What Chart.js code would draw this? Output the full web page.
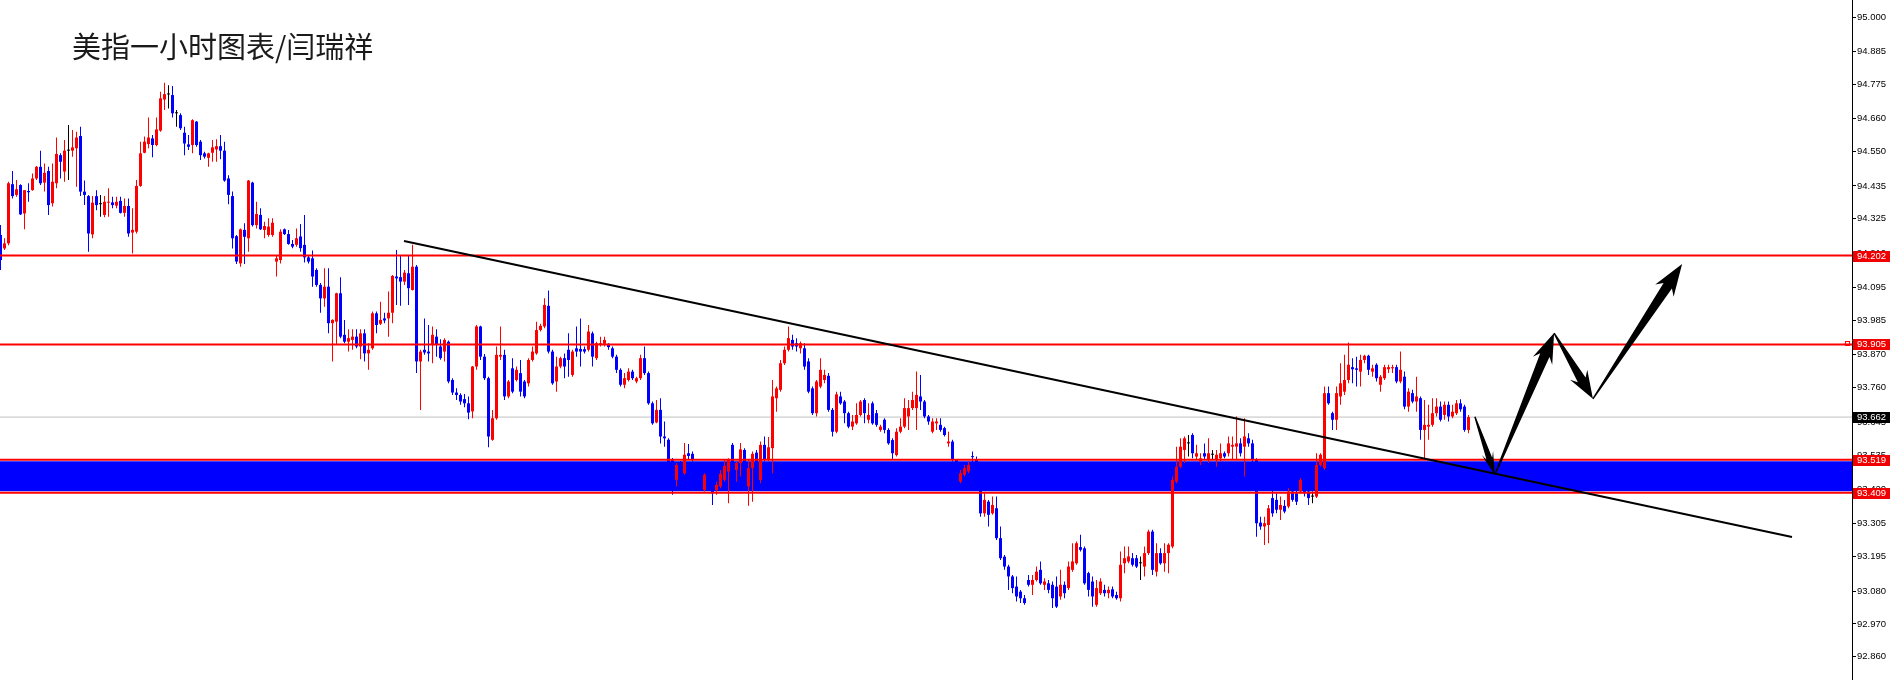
<!DOCTYPE html>
<html>
<head>
<meta charset="utf-8">
<title>美指一小时图表</title>
<script src="https://cdn.jsdelivr.net/npm/chart.js@4.4.1/dist/chart.umd.min.js"></script>
<style>
  html, body { margin: 0; padding: 0; background: #fff; }
  canvas { display: block; }
</style>
</head>
<body>
<canvas id="chart" width="1890" height="680"></canvas>
<script>
// hourly candles, oldest first
const opens = [
  94.271, 94.226, 94.243, 94.441, 94.405, 94.438, 94.343, 94.418, 94.421, 94.460,
  94.499, 94.446, 94.485, 94.377, 94.444, 94.538, 94.483, 94.553, 94.553, 94.561,
  94.602, 94.416, 94.401, 94.273, 94.401, 94.374, 94.338, 94.379, 94.380, 94.369,
  94.385, 94.345, 94.368, 94.279, 94.282, 94.435, 94.546, 94.575, 94.594, 94.572,
  94.620, 94.724, 94.741, 94.739, 94.678, 94.672, 94.613, 94.574, 94.572, 94.650,
  94.583, 94.544, 94.529, 94.546, 94.557, 94.568, 94.553, 94.460, 94.401, 94.267,
  94.176, 94.288, 94.260, 94.446, 94.304, 94.338, 94.288, 94.271, 94.271, 94.182,
  94.187, 94.290, 94.274, 94.241, 94.238, 94.266, 94.238, 94.196, 94.193, 94.154,
  94.104, 94.059, 94.098, 93.976, 93.981, 94.076, 93.937, 93.914, 93.920, 93.931,
  93.898, 93.942, 93.875, 93.892, 94.009, 93.974, 93.992, 93.992, 94.011, 94.132,
  94.130, 94.115, 94.143, 94.087, 94.165, 93.848, 93.887, 93.881, 93.903, 93.931,
  93.898, 93.881, 93.914, 93.786, 93.744, 93.736, 93.722, 93.708, 93.681, 93.831,
  93.965, 93.864, 93.792, 93.586, 93.658, 93.864, 93.870, 93.731, 93.825, 93.786,
  93.809, 93.781, 93.775, 93.853, 93.875, 93.953, 93.965, 94.034, 93.881, 93.781,
  93.831, 93.859, 93.887, 93.803, 93.892, 93.890, 93.889, 93.887, 93.942, 93.859,
  93.903, 93.907, 93.907, 93.892, 93.864, 93.820, 93.770, 93.786, 93.814, 93.781,
  93.792, 93.859, 93.809, 93.708, 93.644, 93.686, 93.597, 93.586, 93.519, 93.452,
  93.510, 93.474, 93.541, 93.539, 93.496, 93.460, 93.418, 93.470, 93.452, 93.418,
  93.430, 93.452, 93.480, 93.569, 93.485, 93.508, 93.552, 93.430, 93.491, 93.543,
  93.452, 93.569, 93.519, 93.558, 93.725, 93.753, 93.842, 93.887, 93.920, 93.909,
  93.892, 93.892, 93.848, 93.758, 93.675, 93.764, 93.786, 93.800, 93.686, 93.613,
  93.731, 93.714, 93.675, 93.630, 93.641, 93.669, 93.719, 93.653, 93.708, 93.675,
  93.619, 93.653, 93.619, 93.585, 93.535, 93.613, 93.630, 93.664, 93.692, 93.692,
  93.731, 93.714, 93.664, 93.613, 93.641, 93.636, 93.625, 93.574, 93.580, 93.519,
  93.446, 93.469, 93.480, 93.530, 93.520, 93.418, 93.340, 93.379, 93.340, 93.357,
  93.257, 93.195, 93.162, 93.129, 93.095, 93.078, 93.056, 93.117, 93.101, 93.117,
  93.151, 93.101, 93.106, 93.101, 93.095, 93.062, 93.101, 93.090, 93.151, 93.173,
  93.227, 93.223, 93.140, 93.112, 93.034, 93.073, 93.084, 93.073, 93.086, 93.067,
  93.056, 93.173, 93.179, 93.190, 93.190, 93.173, 93.162, 93.207, 93.279, 93.145,
  93.207, 93.173, 93.207, 93.229, 93.446, 93.496, 93.552, 93.574, 93.602, 93.530,
  93.513, 93.541, 93.519, 93.536, 93.519, 93.524, 93.541, 93.541, 93.563, 93.563,
  93.574, 93.563, 93.591, 93.574, 93.519, 93.309, 93.296, 93.301, 93.391, 93.385,
  93.352, 93.365, 93.363, 93.413, 93.407, 93.413, 93.418, 93.413, 93.396, 93.396,
  93.502, 93.491, 93.742, 93.675, 93.653, 93.731, 93.747, 93.786, 93.829, 93.825,
  93.814, 93.853, 93.867, 93.814, 93.837, 93.770, 93.792, 93.822, 93.825, 93.829,
  93.781, 93.797, 93.697, 93.742, 93.714, 93.725, 93.619, 93.630, 93.636, 93.675,
  93.697, 93.669, 93.703, 93.664, 93.675, 93.708, 93.697, 93.619
];
const highs = [
  94.304, 94.260, 94.449, 94.485, 94.455, 94.441, 94.421, 94.444, 94.477, 94.502,
  94.553, 94.510, 94.499, 94.510, 94.597, 94.544, 94.589, 94.639, 94.622, 94.616,
  94.633, 94.453, 94.405, 94.401, 94.421, 94.405, 94.401, 94.427, 94.399, 94.399,
  94.399, 94.393, 94.393, 94.360, 94.455, 94.583, 94.600, 94.664, 94.605, 94.664,
  94.750, 94.780, 94.772, 94.769, 94.689, 94.678, 94.633, 94.605, 94.658, 94.652,
  94.589, 94.549, 94.546, 94.589, 94.591, 94.605, 94.583, 94.471, 94.416, 94.271,
  94.293, 94.310, 94.455, 94.449, 94.382, 94.360, 94.315, 94.327, 94.327, 94.204,
  94.290, 94.293, 94.288, 94.254, 94.293, 94.308, 94.338, 94.204, 94.219, 94.160,
  94.110, 94.160, 94.160, 93.989, 94.078, 94.130, 93.987, 93.956, 93.956, 93.956,
  93.956, 93.956, 93.909, 94.015, 94.015, 94.048, 94.011, 94.082, 94.137, 94.221,
  94.201, 94.154, 94.201, 94.238, 94.171, 93.887, 93.992, 93.970, 93.965, 93.956,
  93.922, 93.926, 93.918, 93.792, 93.758, 93.742, 93.739, 93.731, 93.833, 93.970,
  93.967, 93.873, 93.797, 93.686, 93.898, 93.965, 93.887, 93.786, 93.859, 93.831,
  93.853, 93.786, 93.859, 93.898, 93.981, 93.974, 94.059, 94.085, 93.887, 93.864,
  93.864, 93.875, 93.942, 93.887, 93.965, 93.992, 93.898, 93.970, 93.948, 93.914,
  93.931, 93.931, 93.909, 93.898, 93.870, 93.825, 93.809, 93.825, 93.820, 93.797,
  93.870, 93.898, 93.814, 93.714, 93.719, 93.725, 93.647, 93.591, 93.525, 93.508,
  93.515, 93.575, 93.572, 93.547, 93.508, 93.470, 93.474, 93.480, 93.463, 93.446,
  93.485, 93.521, 93.524, 93.575, 93.513, 93.575, 93.558, 93.519, 93.547, 93.552,
  93.580, 93.597, 93.595, 93.786, 93.764, 93.853, 93.898, 93.965, 93.937, 93.926,
  93.915, 93.909, 93.859, 93.764, 93.786, 93.859, 93.820, 93.809, 93.692, 93.747,
  93.747, 93.719, 93.680, 93.669, 93.708, 93.719, 93.725, 93.708, 93.714, 93.686,
  93.636, 93.658, 93.625, 93.591, 93.625, 93.658, 93.725, 93.719, 93.747, 93.814,
  93.803, 93.719, 93.669, 93.658, 93.658, 93.658, 93.630, 93.613, 93.586, 93.520,
  93.485, 93.502, 93.513, 93.547, 93.530, 93.430, 93.407, 93.385, 93.396, 93.396,
  93.296, 93.201, 93.168, 93.134, 93.129, 93.084, 93.067, 93.134, 93.134, 93.162,
  93.179, 93.123, 93.117, 93.112, 93.129, 93.151, 93.112, 93.179, 93.240, 93.246,
  93.268, 93.229, 93.145, 93.129, 93.117, 93.123, 93.101, 93.095, 93.095, 93.078,
  93.212, 93.229, 93.229, 93.207, 93.201, 93.196, 93.229, 93.285, 93.285, 93.240,
  93.223, 93.240, 93.240, 93.463, 93.563, 93.591, 93.597, 93.602, 93.608, 93.569,
  93.541, 93.574, 93.591, 93.552, 93.552, 93.574, 93.547, 93.597, 93.597, 93.664,
  93.591, 93.658, 93.608, 93.586, 93.524, 93.329, 93.329, 93.368, 93.418, 93.407,
  93.396, 93.385, 93.424, 93.446, 93.418, 93.457, 93.430, 93.424, 93.413, 93.541,
  93.541, 93.764, 93.764, 93.680, 93.764, 93.842, 93.870, 93.911, 93.859, 93.864,
  93.870, 93.870, 93.870, 93.837, 93.842, 93.803, 93.837, 93.837, 93.837, 93.837,
  93.881, 93.814, 93.758, 93.753, 93.797, 93.731, 93.719, 93.703, 93.725, 93.725,
  93.714, 93.714, 93.714, 93.703, 93.719, 93.722, 93.703, 93.669
];
const lows = [
  94.154, 94.221, 94.237, 94.393, 94.399, 94.338, 94.290, 94.382, 94.419, 94.455,
  94.438, 94.416, 94.338, 94.366, 94.427, 94.460, 94.449, 94.455, 94.533, 94.432,
  94.401, 94.371, 94.215, 94.260, 94.354, 94.332, 94.330, 94.332, 94.360, 94.360,
  94.343, 94.332, 94.265, 94.209, 94.276, 94.432, 94.544, 94.561, 94.531, 94.568,
  94.616, 94.689, 94.694, 94.664, 94.633, 94.622, 94.538, 94.555, 94.544, 94.566,
  94.522, 94.527, 94.499, 94.516, 94.516, 94.524, 94.449, 94.374, 94.226, 94.174,
  94.165, 94.174, 94.215, 94.299, 94.293, 94.288, 94.260, 94.265, 94.265, 94.132,
  94.176, 94.271, 94.238, 94.227, 94.232, 94.215, 94.179, 94.176, 94.098, 94.098,
  94.011, 94.031, 93.942, 93.848, 93.903, 93.926, 93.909, 93.881, 93.887, 93.892,
  93.855, 93.848, 93.820, 93.887, 93.942, 93.970, 93.976, 93.931, 93.976, 94.037,
  94.034, 94.104, 94.037, 94.085, 93.809, 93.686, 93.870, 93.848, 93.842, 93.864,
  93.854, 93.848, 93.775, 93.736, 93.719, 93.703, 93.695, 93.655, 93.658, 93.820,
  93.853, 93.786, 93.561, 93.583, 93.653, 93.853, 93.719, 93.725, 93.742, 93.781,
  93.731, 93.725, 93.764, 93.848, 93.870, 93.948, 93.959, 93.875, 93.770, 93.747,
  93.825, 93.792, 93.797, 93.797, 93.864, 93.831, 93.875, 93.881, 93.831, 93.853,
  93.898, 93.898, 93.887, 93.859, 93.809, 93.764, 93.758, 93.781, 93.786, 93.775,
  93.786, 93.803, 93.703, 93.636, 93.641, 93.574, 93.563, 93.418, 93.402, 93.430,
  93.470, 93.469, 93.519, 93.513, 93.441, 93.420, 93.413, 93.430, 93.368, 93.402,
  93.424, 93.446, 93.374, 93.496, 93.446, 93.463, 93.418, 93.365, 93.379, 93.491,
  93.441, 93.513, 93.513, 93.474, 93.680, 93.747, 93.836, 93.881, 93.887, 93.881,
  93.875, 93.820, 93.742, 93.669, 93.664, 93.758, 93.775, 93.680, 93.597, 93.608,
  93.703, 93.641, 93.625, 93.619, 93.636, 93.664, 93.641, 93.641, 93.636, 93.630,
  93.613, 93.608, 93.569, 93.519, 93.530, 93.608, 93.625, 93.619, 93.686, 93.619,
  93.686, 93.658, 93.636, 93.608, 93.619, 93.613, 93.597, 93.563, 93.513, 93.470,
  93.441, 93.463, 93.474, 93.485, 93.430, 93.329, 93.329, 93.296, 93.335, 93.251,
  93.184, 93.151, 93.084, 93.073, 93.045, 93.040, 93.034, 93.095, 93.067, 93.112,
  93.101, 93.084, 93.073, 93.023, 93.023, 93.051, 93.056, 93.084, 93.145, 93.168,
  93.212, 93.101, 93.062, 93.028, 93.028, 93.067, 93.062, 93.056, 93.056, 93.051,
  93.045, 93.140, 93.173, 93.162, 93.157, 93.117, 93.129, 93.201, 93.134, 93.129,
  93.168, 93.145, 93.140, 93.223, 93.441, 93.491, 93.508, 93.530, 93.524, 93.519,
  93.502, 93.519, 93.508, 93.519, 93.496, 93.513, 93.524, 93.530, 93.519, 93.519,
  93.530, 93.463, 93.563, 93.508, 93.262, 93.285, 93.234, 93.240, 93.329, 93.340,
  93.318, 93.340, 93.357, 93.379, 93.368, 93.407, 93.396, 93.368, 93.374, 93.391,
  93.497, 93.485, 93.703, 93.619, 93.619, 93.703, 93.736, 93.775, 93.775, 93.764,
  93.764, 93.842, 93.803, 93.797, 93.781, 93.747, 93.786, 93.809, 93.809, 93.775,
  93.775, 93.688, 93.680, 93.708, 93.680, 93.586, 93.519, 93.586, 93.630, 93.664,
  93.647, 93.653, 93.647, 93.658, 93.669, 93.680, 93.613, 93.608
];
const closes = [
  94.187, 94.243, 94.444, 94.401, 94.424, 94.340, 94.421, 94.414, 94.460, 94.499,
  94.444, 94.479, 94.371, 94.449, 94.542, 94.516, 94.553, 94.553, 94.564, 94.597,
  94.416, 94.405, 94.276, 94.379, 94.371, 94.374, 94.382, 94.382, 94.371, 94.382,
  94.345, 94.368, 94.276, 94.288, 94.435, 94.544, 94.583, 94.597, 94.572, 94.624,
  94.728, 94.742, 94.741, 94.678, 94.678, 94.628, 94.577, 94.566, 94.655, 94.572,
  94.538, 94.533, 94.544, 94.564, 94.568, 94.553, 94.453, 94.405, 94.260, 94.182,
  94.290, 94.265, 94.453, 94.304, 94.341, 94.290, 94.301, 94.299, 94.312, 94.193,
  94.282, 94.274, 94.241, 94.232, 94.260, 94.227, 94.196, 94.182, 94.132, 94.104,
  94.059, 94.098, 93.976, 93.987, 94.076, 93.931, 93.914, 93.926, 93.931, 93.898,
  93.942, 93.875, 93.887, 94.009, 93.970, 93.987, 93.985, 94.011, 94.134, 94.126,
  94.115, 94.145, 94.093, 94.165, 93.848, 93.881, 93.878, 93.875, 93.937, 93.903,
  93.859, 93.920, 93.781, 93.744, 93.736, 93.714, 93.708, 93.677, 93.831, 93.965,
  93.864, 93.792, 93.597, 93.658, 93.870, 93.870, 93.731, 93.781, 93.747, 93.820,
  93.747, 93.731, 93.853, 93.881, 93.953, 93.967, 94.037, 93.881, 93.775, 93.831,
  93.859, 93.831, 93.853, 93.881, 93.881, 93.881, 93.881, 93.948, 93.864, 93.909,
  93.909, 93.920, 93.896, 93.864, 93.820, 93.770, 93.792, 93.814, 93.792, 93.792,
  93.859, 93.809, 93.708, 93.641, 93.686, 93.597, 93.591, 93.470, 93.450, 93.502,
  93.480, 93.536, 93.532, 93.519, 93.452, 93.430, 93.469, 93.440, 93.407, 93.435,
  93.472, 93.499, 93.519, 93.502, 93.508, 93.554, 93.452, 93.491, 93.539, 93.496,
  93.569, 93.519, 93.561, 93.731, 93.758, 93.842, 93.887, 93.926, 93.898, 93.898,
  93.909, 93.831, 93.747, 93.675, 93.781, 93.820, 93.803, 93.686, 93.613, 93.738,
  93.708, 93.675, 93.630, 93.647, 93.669, 93.714, 93.675, 93.669, 93.641, 93.636,
  93.630, 93.619, 93.574, 93.541, 93.613, 93.630, 93.692, 93.692, 93.719, 93.736,
  93.714, 93.664, 93.647, 93.647, 93.647, 93.619, 93.602, 93.580, 93.519, 93.480,
  93.474, 93.491, 93.502, 93.528, 93.440, 93.340, 93.385, 93.335, 93.368, 93.257,
  93.190, 93.162, 93.129, 93.090, 93.062, 93.056, 93.040, 93.101, 93.117, 93.145,
  93.106, 93.112, 93.084, 93.056, 93.028, 93.101, 93.073, 93.162, 93.179, 93.240,
  93.218, 93.106, 93.084, 93.062, 93.090, 93.112, 93.073, 93.084, 93.062, 93.056,
  93.168, 93.190, 93.196, 93.168, 93.162, 93.173, 93.207, 93.279, 93.151, 93.207,
  93.173, 93.207, 93.235, 93.452, 93.496, 93.563, 93.591, 93.574, 93.541, 93.541,
  93.524, 93.530, 93.541, 93.536, 93.536, 93.541, 93.530, 93.574, 93.569, 93.574,
  93.541, 93.597, 93.574, 93.519, 93.307, 93.296, 93.307, 93.357, 93.340, 93.352,
  93.368, 93.346, 93.413, 93.385, 93.379, 93.452, 93.407, 93.391, 93.396, 93.502,
  93.536, 93.742, 93.708, 93.653, 93.742, 93.775, 93.786, 93.837, 93.822, 93.820,
  93.853, 93.867, 93.820, 93.825, 93.792, 93.797, 93.829, 93.829, 93.829, 93.781,
  93.820, 93.697, 93.747, 93.714, 93.731, 93.619, 93.636, 93.636, 93.675, 93.697,
  93.653, 93.703, 93.664, 93.680, 93.708, 93.688, 93.619, 93.662
];

// price scale labels on the right axis
const priceTicks = [95.000, 94.885, 94.775, 94.660, 94.550, 94.435, 94.325, 94.210, 94.095, 93.985,
  93.870, 93.760, 93.645, 93.535, 93.420, 93.305, 93.195, 93.080, 92.970, 92.860];
const levelLines = [94.202, 93.905, 93.519, 93.409];   // red horizontal lines
const bidPrice = 93.662;
const zoneTop = 93.514;
const zoneBottom = 93.414;
// trend line and forecast path: [bar index, price]
const trendLine = [[100.875, 94.251], [447.875, 93.261]];
const forecastPath = [[368.6, 93.663], [373.6, 93.469], [388.4, 93.943], [398.1, 93.723], [420.4, 94.174]];
const titleText = '美指一小时图表/闫瑞祥';

const RED = '#ff0000';
const BLUE = '#0000ff';
const X_MIN = -0.125, X_MAX = 462.875;   // 4px per bar
const Y_MIN = 92.7826, Y_MAX = 95.0569;

const barColor = opens.map((o, i) => closes[i] > o ? RED : (closes[i] < o ? BLUE : '#000000'));
const flatLine = v => [{ x: X_MIN - 2, y: v }, { x: X_MAX + 2, y: v }];

function drawArrow(ctx, x0, y0, x1, y1, headLen, headW, shaftW) {
  const len = Math.hypot(x1 - x0, y1 - y0);
  const ux = (x1 - x0) / len, uy = (y1 - y0) / len;
  const nx = -uy, ny = ux;
  const bx = x1 - ux * headLen, by = y1 - uy * headLen;
  const back = 6;
  ctx.beginPath();
  ctx.moveTo(x0 + nx * 0.7, y0 + ny * 0.7);
  ctx.lineTo(bx + nx * shaftW / 2, by + ny * shaftW / 2);
  ctx.lineTo(bx - ux * back + nx * headW / 2, by - uy * back + ny * headW / 2);
  ctx.lineTo(x1, y1);
  ctx.lineTo(bx - ux * back - nx * headW / 2, by - uy * back - ny * headW / 2);
  ctx.lineTo(bx - nx * shaftW / 2, by - ny * shaftW / 2);
  ctx.lineTo(x0 - nx * 0.7, y0 - ny * 0.7);
  ctx.closePath();
  ctx.fill();
}

const overlay = {
  id: 'overlay',
  afterDatasetsDraw(chart) {
    const { ctx, scales: { x, y } } = chart;
    const sizes = [[17, 12, 6], [24, 21, 10], [22, 20, 9], [26, 22, 10]];
    ctx.save();
    ctx.fillStyle = '#000';
    for (let k = 0; k < forecastPath.length - 1; k++) {
      const a = forecastPath[k], b = forecastPath[k + 1];
      const s = sizes[k];
      drawArrow(ctx, x.getPixelForValue(a[0]), y.getPixelForValue(a[1]),
        x.getPixelForValue(b[0]), y.getPixelForValue(b[1]), s[0], s[1], s[2]);
    }
    ctx.restore();
  },
  afterDraw(chart) {
    const { ctx, scales: { y }, chartArea } = chart;
    ctx.save();
    // title
    ctx.fillStyle = '#1a1a1a';
    ctx.font = '29px "Noto Sans CJK SC"';
    ctx.textBaseline = 'middle';
    ctx.textAlign = 'left';
    ctx.fillText(titleText, 72, 47);
    // price tags on the axis
    ctx.font = '9.5px "Liberation Sans"';
    const tag = (v, bg) => {
      const py = Math.round(y.getPixelForValue(v));
      ctx.fillStyle = bg;
      ctx.fillRect(chartArea.right + 1, py - 5, 40, 11);
      ctx.fillStyle = '#fff';
      ctx.fillText(v.toFixed(3), chartArea.right + 5, py + 0.5);
    };
    levelLines.forEach(v => tag(v, '#f00000'));
    tag(bidPrice, '#000000');
    // small marker on the 93.905 line
    const my = Math.round(y.getPixelForValue(levelLines[1]));
    ctx.strokeStyle = RED;
    ctx.lineWidth = 1;
    ctx.strokeRect(chartArea.right - 6.5, my - 2.5, 4, 4);
    ctx.restore();
  }
};

new Chart(document.getElementById('chart'), {
  type: 'bar',
  data: {
    datasets: [
      {
        type: 'line', data: flatLine(zoneTop), borderWidth: 0, pointRadius: 0,
        backgroundColor: BLUE, fill: { value: zoneBottom }, order: 10
      },
      {
        type: 'line', data: flatLine(bidPrice), borderColor: '#c0c0c0', borderWidth: 1,
        pointRadius: 0, fill: false, order: 9
      },
      {
        label: 'wick', data: opens.map((o, i) => ({ x: i, y: [lows[i], highs[i]] })),
        backgroundColor: barColor, barThickness: 1, grouped: false, inflateAmount: 0,
        borderWidth: 0, order: 4
      },
      {
        label: 'body', data: opens.map((o, i) => ({ x: i, y: [o, closes[i]] })),
        backgroundColor: barColor, barThickness: 3, minBarLength: 1, grouped: false,
        inflateAmount: 0, borderWidth: 0, order: 3
      },
      ...levelLines.map(v => ({
        type: 'line', data: flatLine(v), borderColor: RED, borderWidth: 2,
        pointRadius: 0, fill: false, order: 2
      })),
      {
        type: 'line', data: trendLine.map(p => ({ x: p[0], y: p[1] })),
        borderColor: '#000', borderWidth: 2, pointRadius: 0, fill: false, order: 1
      }
    ]
  },
  options: {
    responsive: false,
    devicePixelRatio: 1,
    animation: false,
    events: [],
    layout: { padding: 0 },
    plugins: { legend: { display: false }, tooltip: { enabled: false } },
    scales: {
      x: { type: 'linear', min: X_MIN, max: X_MAX, offset: false, display: false },
      y: {
        type: 'linear', position: 'right', min: Y_MIN, max: Y_MAX,
        afterBuildTicks: s => { s.ticks = priceTicks.map(v => ({ value: v })); },
        afterFit: s => { s.width = 38; s.paddingTop = 0; s.paddingBottom = 0; },
        grid: { drawOnChartArea: false, drawTicks: true, tickLength: 4, color: '#000' },
        border: { display: true, color: '#000', width: 1 },
        ticks: {
          padding: 1, color: '#000',
          font: { family: 'Liberation Sans', size: 9.5 },
          callback: v => v.toFixed(3)
        }
      }
    }
  },
  plugins: [overlay]
});
</script>
</body>
</html>
